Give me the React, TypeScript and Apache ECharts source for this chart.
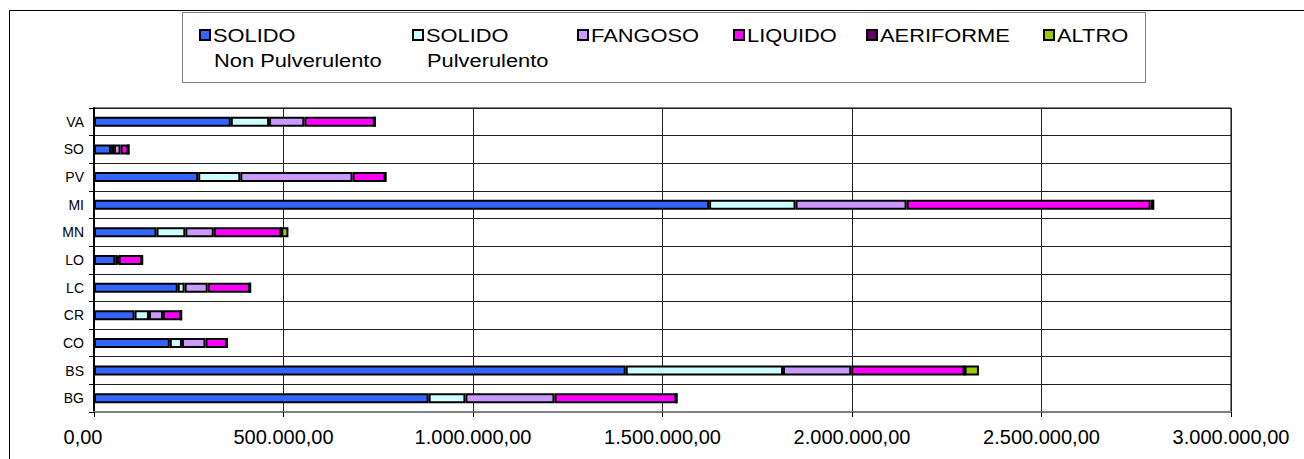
import React, { useEffect, useRef } from "react";
import * as echarts from "echarts";

const categories = ["BG", "BS", "CO", "CR", "LC", "LO", "MN", "MI", "PV", "SO", "VA"];
const solidoNonPulv = [883000, 1403000, 200000, 107000, 221000, 56000, 165000, 1623000, 275000, 45000, 361000];
const solidoPulv = [97000, 415000, 32000, 38000, 18000, 6000, 76000, 228000, 111000, 8000, 101000];
const fangoso = [235000, 180000, 62000, 37000, 61000, 3000, 75000, 293000, 296000, 17000, 93000];
const liquido = [322000, 299000, 57000, 48000, 112000, 62000, 178000, 644000, 87000, 21000, 186000];
const aeriforme = [0, 0, 0, 0, 0, 0, 0, 7000, 0, 0, 0];
const altro = [0, 38000, 0, 0, 0, 0, 19000, 0, 0, 0, 0];

const seriesNames = ["SOLIDO Non Pulverulento", "SOLIDO Pulverulento", "FANGOSO", "LIQUIDO", "AERIFORME", "ALTRO"];
const legendLine1 = ["SOLIDO", "SOLIDO", "FANGOSO", "LIQUIDO", "AERIFORME", "ALTRO"];
const legendLine2 = ["Non Pulverulento", "Pulverulento", "", "", "", ""];
const colors = ["#3366FF", "#CCFFFF", "#CC99FF", "#FF00FF", "#660066", "#99CC00"];
const seriesData = [solidoNonPulv, solidoPulv, fangoso, liquido, aeriforme, altro];
const legendX = [199, 412, 577, 733, 866, 1043];

const FONT = "'Liberation Sans', Arial, sans-serif";

function fmt(v: number): string {
  const s = Math.round(v).toString();
  const withDots = s.replace(/\B(?=(\d{3})+(?!\d))/g, ".");
  return withDots + ",00";
}

export default function App() {
  const ref = useRef<HTMLDivElement>(null);
  useEffect(() => {
    if (!ref.current) return;
    const chart = echarts.init(ref.current, undefined, { renderer: "svg" });
    const graphic: any[] = [
      {
        type: "rect",
        shape: { x: 9.5, y: 10.5, width: 1400, height: 500 },
        style: { fill: "none", stroke: "#000", lineWidth: 1 },
        silent: true,
      },
      {
        type: "rect",
        shape: { x: 182.5, y: 12.5, width: 963, height: 70 },
        style: { fill: "#fff", stroke: "#808080", lineWidth: 1 },
        silent: true,
      },
    ];
    legendX.forEach((x, i) => {
      graphic.push({
        type: "rect",
        shape: { x: x + 1, y: 30, width: 10, height: 10 },
        style: { fill: colors[i], stroke: "#000", lineWidth: 2 },
        silent: true,
      });
      graphic.push({
        type: "text",
        x: x + 14,
        y: 35,
        scaleX: 1.15,
        style: { text: legendLine1[i], font: `19px ${FONT}`, fill: "#000", textVerticalAlign: "middle" },
        silent: true,
      });
      if (legendLine2[i]) {
        graphic.push({
          type: "text",
          x: x + 15,
          y: 60,
          scaleX: 1.15,
          style: { text: legendLine2[i], font: `19px ${FONT}`, fill: "#000", textVerticalAlign: "middle" },
          silent: true,
        });
      }
    });

    chart.setOption({
      animation: false,
      backgroundColor: "#fff",
      textStyle: { fontFamily: FONT },
      grid: {
        left: 94,
        right: 73,
        top: 108,
        bottom: 47,
        show: true,
        borderColor: "#000",
        borderWidth: 1,
        containLabel: false,
      },
      graphic,
      xAxis: {
        type: "value",
        min: 0,
        max: 3000000,
        interval: 500000,
        axisLine: { show: true, lineStyle: { color: "#808080", width: 2 } },
        axisTick: { show: true, length: 5, lineStyle: { color: "#000" } },
        splitLine: { show: true, lineStyle: { color: "#222", width: 1 } },
        axisLabel: {
          fontSize: 20,
          color: "#000",
          fontFamily: FONT,
          margin: 15,
          formatter: (v: number) => (v === 0 ? "{z|" + fmt(v) + "}" : fmt(v)),
          rich: { z: { fontSize: 20, color: "#000", fontFamily: FONT, padding: [0, 22, 0, 0] } },
        },
      },
      yAxis: {
        type: "category",
        data: categories,
        axisLine: { show: true, lineStyle: { color: "#000", width: 2 } },
        axisTick: { show: true, length: 5, lineStyle: { color: "#000" } },
        splitLine: { show: true, lineStyle: { color: "#222", width: 1 } },
        axisLabel: { fontSize: 14, color: "#000", fontFamily: FONT, margin: 10 },
      },
      series: seriesNames.map((name, i) => ({
        name,
        type: "bar",
        stack: "total",
        barWidth: 10,
        data: seriesData[i],
        itemStyle: { color: colors[i], borderColor: "#000", borderWidth: 2 },
      })),
    });
    return () => chart.dispose();
  }, []);
  return (
    <div
      ref={ref}
      style={{ position: "fixed", left: 0, top: 0, width: 1304, height: 459, background: "#fff" }}
    />
  );
}
